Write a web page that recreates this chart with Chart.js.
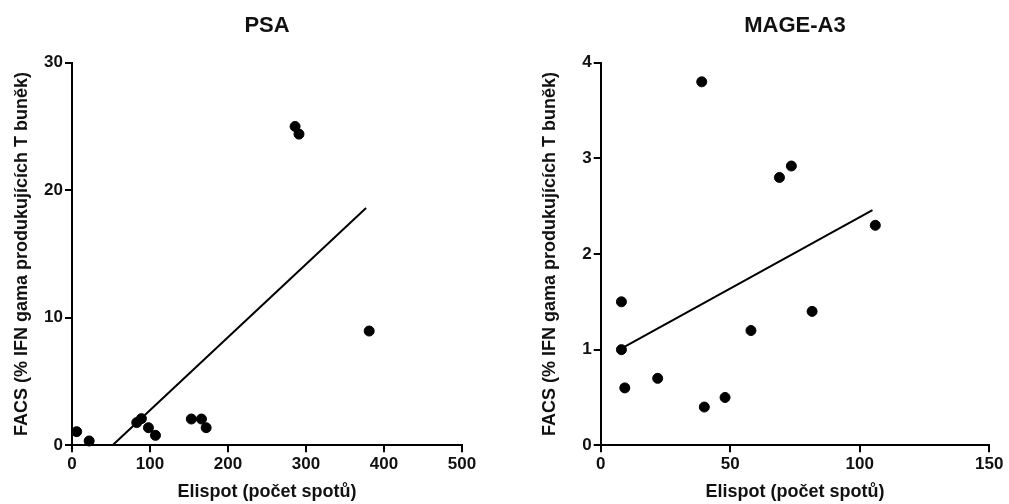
<!DOCTYPE html>
<html>
<head>
<meta charset="utf-8">
<script src="https://cdn.jsdelivr.net/npm/chart.js@4.4.1/dist/chart.umd.min.js"></script>
<style>
	html, body { margin: 0; padding: 0; background: #fff; }
	.panel { position: absolute; top: 0; height: 504px; }
	#left { left: 0; width: 504px; }
	#right { left: 504px; width: 505px; }
</style>
</head>
<body>
<div class="panel" id="left"><canvas id="psaChart"></canvas></div>
<div class="panel" id="right"><canvas id="mageChart"></canvas></div>
<script>
// PSA: Elispot spots vs. FACS %
var psaElispot = [6, 22, 83, 89, 98, 107, 153, 166, 172, 286, 291, 381];
var psaFacs = [1.07, 0.34, 1.78, 2.09, 1.38, 0.78, 2.06, 2.06, 1.38, 25.0, 24.4, 8.96];
var psaFitX = [52, 377];
var psaFitY = [0, 18.6];

// MAGE-A3
var mageElispot = [8, 8, 9.3, 22, 39, 40, 48, 58, 69, 73.6, 81.6, 106];
var mageFacs = [1.5, 1.0, 0.6, 0.7, 3.8, 0.4, 0.5, 1.2, 2.8, 2.92, 1.4, 2.3];
var mageFitX = [7.9, 104.9];
var mageFitY = [1.01, 2.46];

var xTitle = 'Elispot (počet spotů)';
var yTitle = 'FACS (% IFN gama produkujících T buněk)';

var FONT = '"Liberation Sans", Arial, sans-serif';
var INK = '#111';

function toPoints(xs, ys) {
	return xs.map(function (x, i) { return {x: x, y: ys[i]}; });
}

function makeChart(id, title, xs, ys, fitX, fitY, xMax, xStep, yMax, yStep, pad, yWidth) {
	return new Chart(document.getElementById(id), {
		type: 'scatter',
		data: {
			datasets: [{
				data: toPoints(xs, ys),
				backgroundColor: '#000',
				borderColor: '#000',
				pointRadius: 5,
				pointHoverRadius: 5,
				clip: false
			}, {
				data: toPoints(fitX, fitY),
				showLine: true,
				borderColor: '#000',
				borderWidth: 2,
				pointRadius: 0,
				clip: false
			}]
		},
		options: {
			responsive: true,
			maintainAspectRatio: false,
			animation: false,
			layout: { padding: pad },
			plugins: {
				legend: { display: false },
				tooltip: { enabled: false },
				title: {
					display: true,
					text: title,
					fullSize: false,
					color: INK,
					font: { family: FONT, size: 22, weight: 'bold' },
					padding: { top: 13, bottom: 23.3 }
				}
			},
			scales: {
				x: {
					type: 'linear',
					min: 0,
					max: xMax,
					afterFit: function (scale) { scale.height = 58.7; },
					border: { display: true, color: '#000', width: 2 },
					grid: { drawOnChartArea: false, color: '#000', lineWidth: 2, tickLength: 7 },
					ticks: {
						stepSize: xStep,
						padding: 2,
						color: INK,
						font: { family: FONT, size: 17, weight: 'bold' }
					},
					title: {
						display: true,
						text: xTitle,
						color: INK,
						font: { family: FONT, size: 18, weight: 'bold' },
						padding: { top: 0, bottom: 1 }
					}
				},
				y: {
					type: 'linear',
					min: 0,
					max: yMax,
					afterFit: function (scale) { scale.width = yWidth; },
					border: { display: true, color: '#000', width: 2 },
					grid: { drawOnChartArea: false, color: '#000', lineWidth: 2, tickLength: 7 },
					ticks: {
						stepSize: yStep,
						padding: 2,
						color: INK,
						font: { family: FONT, size: 17, weight: 'bold' }
					},
					title: {
						display: true,
						text: yTitle,
						color: INK,
						font: { family: FONT, size: 18, weight: 'bold' },
						padding: { top: 11.7, bottom: 0 }
					}
				}
			}
		}
	});
}

var psaChart = makeChart('psaChart', 'PSA', psaElispot, psaFacs, psaFitX, psaFitY,
	500, 100, 30, 10, { left: 0, right: 42, top: 0, bottom: 0 }, 72);
var mageChart = makeChart('mageChart', 'MAGE-A3', mageElispot, mageFacs, mageFitX, mageFitY,
	150, 50, 4, 1, { left: 24, right: 19.7, top: 0, bottom: 0 }, 72.7);
</script>
</body>
</html>
